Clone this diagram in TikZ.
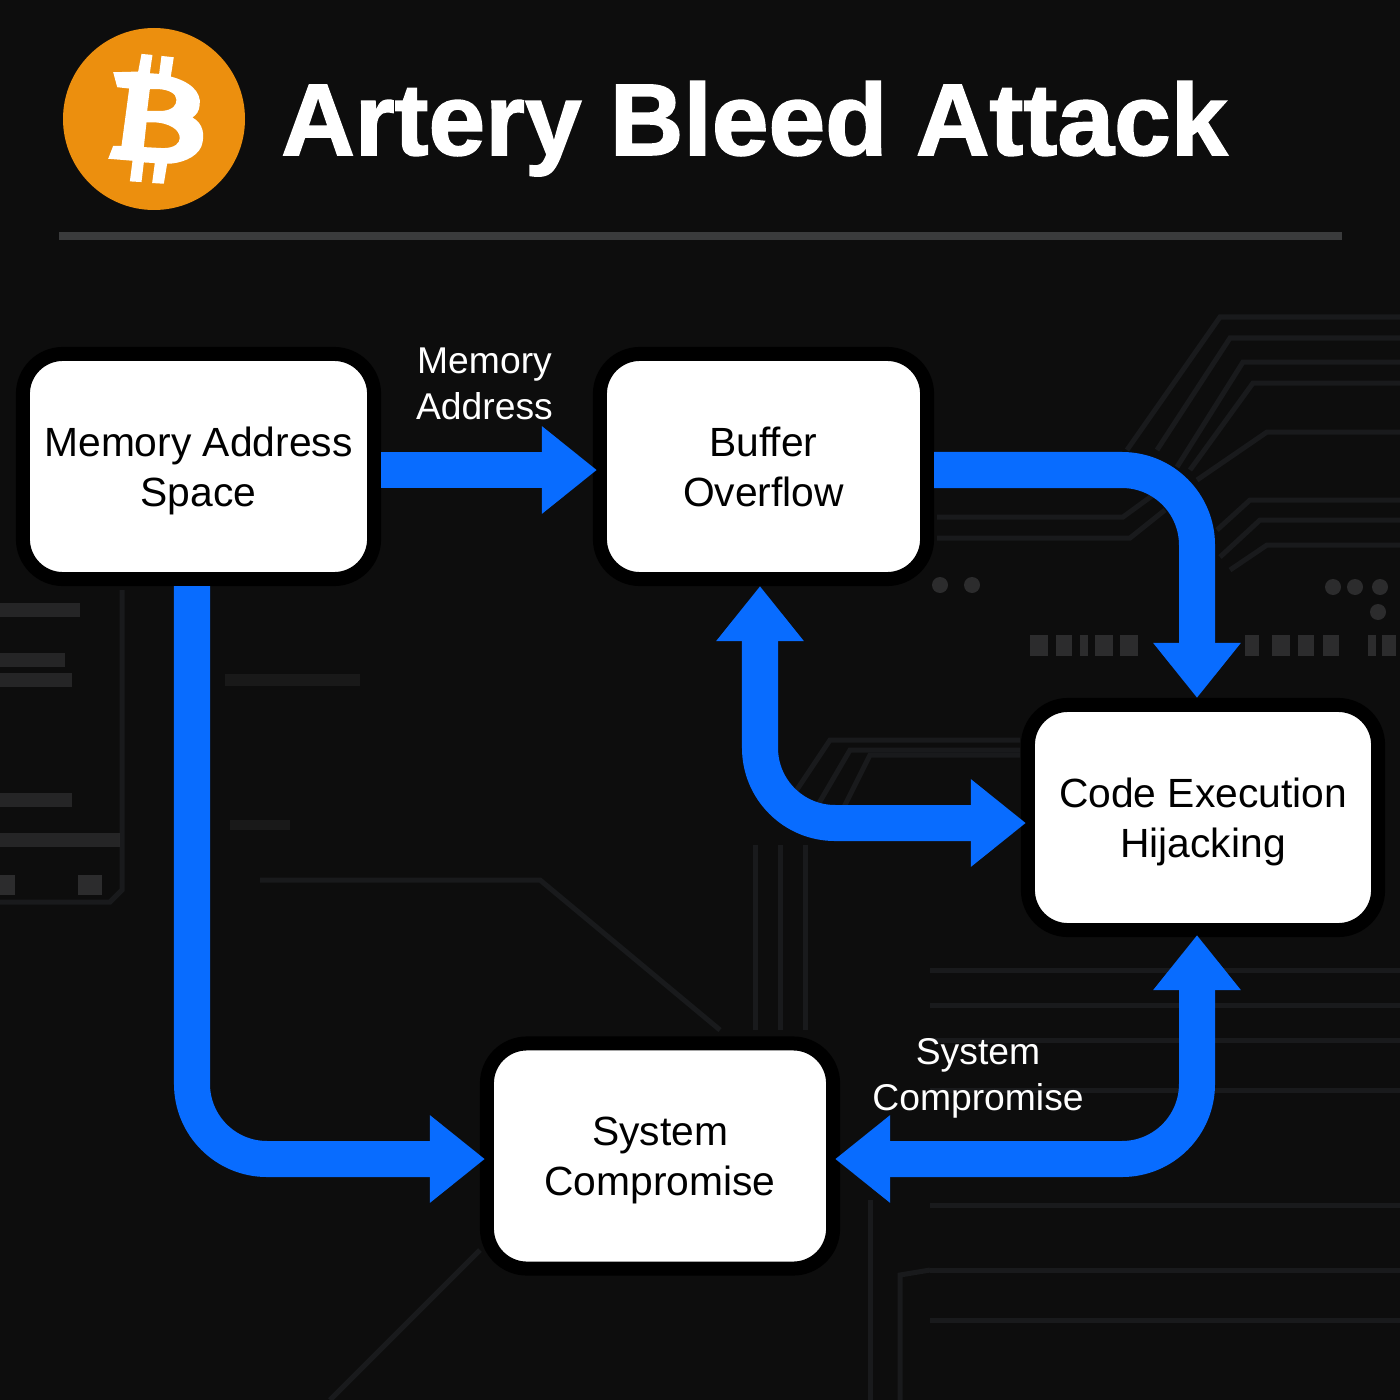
\documentclass[tikz,border=0pt]{standalone}
\usepackage{fontspec}
\setmainfont{Liberation Sans}
\newfontfamily\titlefont[BoldFeatures={FakeBold=1.5}]{Liberation Sans}
\usetikzlibrary{arrows.meta}

\definecolor{darkbg}{RGB}{13,13,13}
\definecolor{flowblue}{RGB}{8,108,255}
\definecolor{coinorange}{RGB}{236,143,14}
\definecolor{rulegray}{RGB}{58,59,60}
\definecolor{tracegray}{RGB}{25,26,28}
\definecolor{padgray}{RGB}{44,44,45}

\tikzset{
  procbox/.style={draw=black, fill=white, text=black, line width=0.14cm, rounded corners=0.4cm,
    minimum height=2.25cm, align=center, text depth=0pt, font=\fontsize{11.6}{14.2}\selectfont},
  flow/.style={draw=flowblue, line width=0.36cm, rounded corners=0.75cm,
    -{Triangle[length=0.55cm,width=0.84cm]}},
  flowboth/.style={flow, {Triangle[length=0.55cm,width=0.84cm]}-{Triangle[length=0.55cm,width=0.84cm]}},
  flowlabel/.style={text=white, align=center, font=\fontsize{10.6}{13.1}\selectfont},
  trace/.style={draw=tracegray, line width=0.05cm},
  pad/.style={fill=padgray},
}

\begin{document}
\begin{tikzpicture}[x=0.01cm, y=-0.01cm]

\fill[darkbg] (0,0) rectangle (1400,1400);
\useasboundingbox (0,0) rectangle (1400,1400);

% board traces, right
\foreach \xa/\ya/\xb/\yb in {1127/450/1220/317, 1157/450/1230/338, 1177/467/1243/362, 1190/470/1253/383,
    1197/480/1267/432, 1217/530/1250/500, 1220/557/1260/520, 1230/570/1267/545}
  \draw[trace] (\xa,\ya) -- (\xb,\yb) -- (1400,\yb);
\draw[trace] (937,517) -- (1123,517) -- (1160,490);
\draw[trace] (937,538) -- (1130,538) -- (1165,510);

% board traces, middle and bottom
\foreach \xa/\ya/\xb in {790/800/830, 815/810/850, 840/815/870}
  \draw[trace] (\xa,\ya) -- (\xb,\ya-60) -- (1020,\ya-60);
\foreach \xa in {755,780,805}
  \draw[trace] (\xa,845) -- (\xa,1030);
\draw[trace] (260,880) -- (540,880) -- (720,1030);
\foreach \ya in {970,1005,1040,1090,1205,1270,1320}
  \draw[trace] (930,\ya) -- (1400,\ya);
\draw[trace] (900,1400) -- (900,1275) -- (930,1270);
\draw[trace] (870,1400) -- (870,1200);
\draw[trace] (330,1400) -- (480,1250);

% board traces and pads, left
\draw[trace] (122,590) -- (122,890) -- (110,902) -- (0,902);
\foreach \xb/\ya in {80/610, 65/660, 72/680, 72/800, 120/840}
  \fill[pad, opacity=0.8] (0,\ya-7) rectangle (\xb,\ya+7);
\fill[pad] (0,875) rectangle (15,895);
\fill[pad] (78,875) rectangle (102,895);
\fill[pad, opacity=0.4] (225,674) rectangle (360,686);
\fill[pad, opacity=0.4] (230,820) rectangle (290,830);

% chip pads and dots
\foreach \xa/\w in {1030/18, 1056/16, 1080/8, 1095/18, 1120/18, 1245/14, 1272/18, 1298/16, 1323/16, 1368/8, 1382/14}
  \fill[pad] (\xa,635) rectangle (\xa+\w,656);
\foreach \xa/\ya in {940/585, 972/585, 1333/587, 1355/587, 1380/587, 1378/612}
  \fill[pad] (\xa,\ya) circle (8);

% header
\fill[coinorange] (154,119) circle (91);
\begin{scope}[shift={(40,10)}, x=0.00333cm, y=-0.00333cm]
\fill[white, even odd rule] (220,187) -- (295,185) -- (305,132) -- (338,135) -- (330,190) -- (358,192)
  -- (365,138) -- (402,142) -- (393,200) .. controls (450,215) and (485,245) .. (480,285)
  .. controls (478,305) and (470,315) .. (458,323) .. controls (490,340) and (497,375) .. (485,410)
  .. controls (470,445) and (420,462) .. (382,462) -- (372,522) -- (337,520) -- (345,460) -- (312,458)
  -- (305,517) -- (270,515) -- (278,453) -- (205,447) -- (220,408) -- (245,408) -- (268,236) -- (232,232) -- cycle
  (330,238) -- (322,303) -- (370,303) .. controls (400,300) and (410,285) .. (410,270)
  .. controls (410,250) and (385,240) .. (360,238) -- cycle
  (320,338) -- (312,412) -- (370,415) .. controls (405,415) and (420,400) .. (420,385)
  .. controls (420,355) and (380,340) .. (350,338) -- cycle;
\end{scope}
\node[anchor=base, text=white, font=\fontsize{29}{35}\selectfont\titlefont\bfseries] (title) at (754.5,155) {Artery Bleed Attack};
\coordinate (ruleleft) at (59,236);
\coordinate (ruleright) at (1342,236);
\draw[rulegray, line width=0.08cm] (ruleleft) -- (ruleright);

% boxes
\node[procbox, minimum width=3.51cm] (mem) at (198.5,466.5) {Memory Address\\Space};
\node[procbox, minimum width=3.27cm] (buf) at (763.5,466.5) {Buffer\\Overflow};
\node[procbox, minimum width=3.50cm] (code) at (1203,817.5) {Code Execution\\Hijacking};
\node[procbox, minimum width=3.46cm] (sys) at (660,1156) {System\\Compromise};

% connectors
\draw[flow] ([yshift=-0.035cm]mem.east) -- ([xshift=0.04cm, yshift=-0.035cm]buf.west);
\draw[flow] ([yshift=-0.035cm]buf.east) -| ([xshift=-0.06cm]code.north);
\draw[flowboth] ([xshift=-0.035cm]buf.south) |- ([xshift=0.05cm, yshift=-0.055cm]code.west);
\draw[flow] ([xshift=-0.065cm]mem.south) |- ([xshift=0.05cm, yshift=-0.03cm]sys.west);
\draw[flowboth] ([xshift=-0.06cm, yshift=0.02cm]code.south) |- ([xshift=-0.05cm, yshift=-0.03cm]sys.east);

% labels
\node[flowlabel] (memlabel) at (484.5,384) {Memory\\Address};
\node[flowlabel] (syslabel) at (978,1078.5) {System\\Compromise};

\end{tikzpicture}
\end{document}
